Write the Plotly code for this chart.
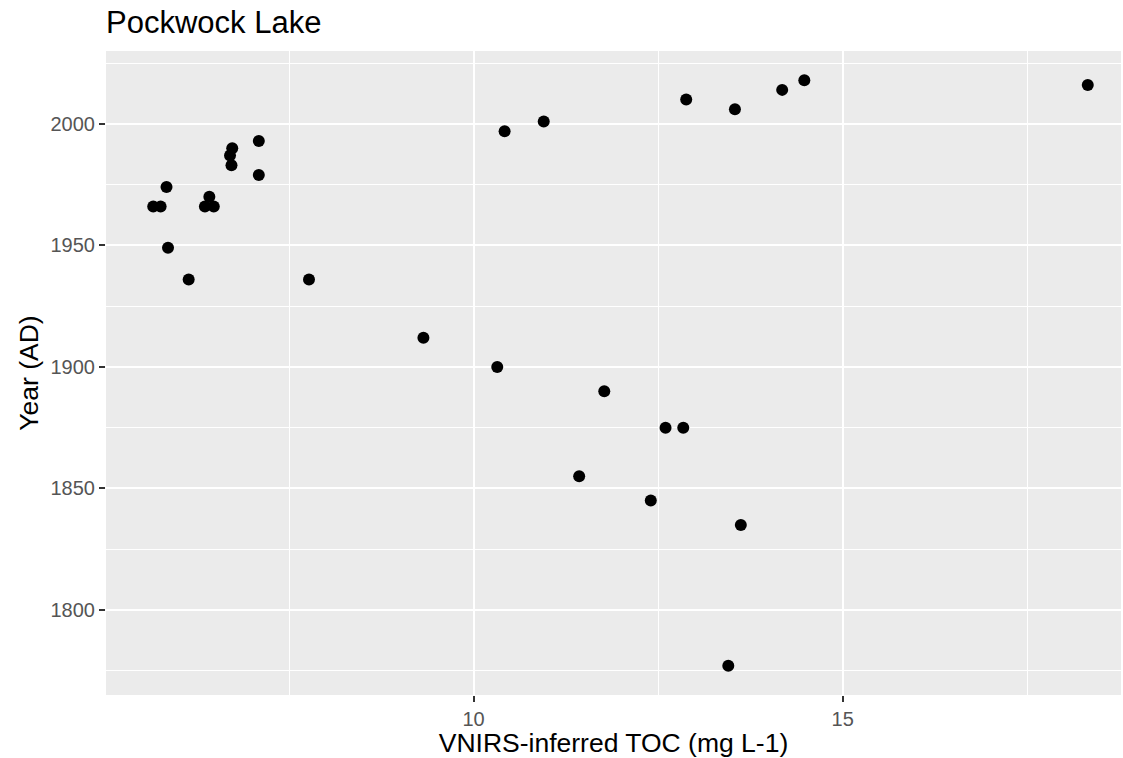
import plotly.graph_objects as go

# VNIRS-inferred total organic carbon by sediment year, Pockwock Lake
toc = [5.66, 5.76, 5.84, 5.86, 6.14, 6.36, 6.42, 6.48, 6.73, 6.70,
       6.72, 7.09, 7.09, 7.77, 9.32, 10.32, 10.42, 10.95, 11.43, 11.77,
       12.40, 12.60, 12.84, 12.88, 13.45, 13.54, 13.62, 14.18, 14.48, 18.32]
year = [1966, 1966, 1974, 1949, 1936, 1966, 1970, 1966, 1990, 1987,
        1983, 1993, 1979, 1936, 1912, 1900, 1997, 2001, 1855, 1890,
        1845, 1875, 1875, 2010, 1777, 2006, 1835, 2014, 2018, 2016]

x_ticks = [10, 15]
y_ticks = [1800, 1850, 1900, 1950, 2000]

FONT = "Liberation Sans, Arial, Helvetica, sans-serif"
PANEL = "#EBEBEB"

fig = go.Figure(
    go.Scatter(
        x=toc, y=year, mode="markers",
        marker=dict(size=12, color="black", line=dict(width=0)),
        hoverinfo="x+y",
    )
)

axis_common = dict(
    showline=False, zeroline=False,
    showgrid=True, gridcolor="white", gridwidth=2.4,
    ticks="outside", ticklen=6, tickwidth=2, tickcolor="#333333",
    tickfont=dict(family=FONT, size=20, color="#555555"),
    title_font=dict(family=FONT, size=26.5, color="black"),
)

fig.update_layout(
    width=1123, height=758,
    margin=dict(l=106, r=2, t=51, b=63),
    paper_bgcolor="white", plot_bgcolor=PANEL,
    showlegend=False,
    title=dict(
        text="Pockwock Lake",
        x=106 / 1123, xref="container", xanchor="left",
        y=1 - 22 / 758, yref="container", yanchor="middle",
        font=dict(family=FONT, size=31, color="black"),
    ),
    xaxis=dict(
        range=[5.02, 18.77], tickvals=x_ticks,
        minor=dict(dtick=2.5, tick0=0, showgrid=True, gridcolor="white",
                   gridwidth=1.2, ticks=""),
        title=dict(text="VNIRS-inferred TOC (mg L-1)", standoff=4),
        **axis_common,
    ),
    yaxis=dict(
        range=[1765, 2030], tickvals=y_ticks,
        minor=dict(dtick=25, tick0=0, showgrid=True, gridcolor="white",
                   gridwidth=1.2, ticks=""),
        title=dict(text="Year (AD)", standoff=4),
        **axis_common,
    ),
)

fig.write_html("out.html")
